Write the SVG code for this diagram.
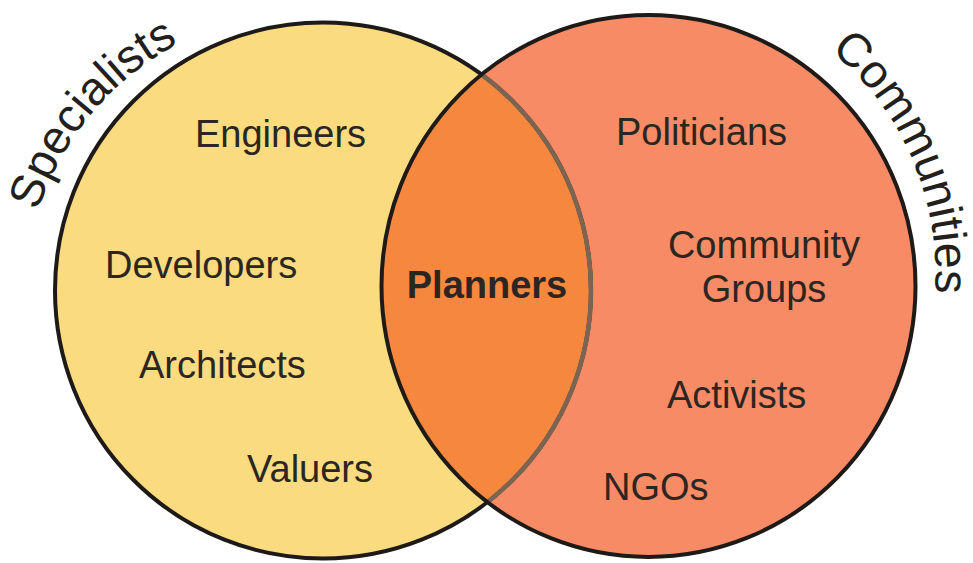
<svg xmlns="http://www.w3.org/2000/svg" width="973" height="563" viewBox="0 0 973 563">
  <style>
    .lbl { font-family: "Liberation Sans", Arial, sans-serif; font-size: 38px; fill: #2b2622; }
    .bold { font-weight: bold; }
    .arc { font-family: "Liberation Sans", Arial, sans-serif; font-size: 47px; fill: #231f1c; }
    .edge { fill: none; stroke: #1e1a17; stroke-width: 4; }
  </style>
  <defs>
    <clipPath id="clipLeft"><circle cx="323" cy="290.5" r="268"/></clipPath>
    <clipPath id="clipRight"><ellipse cx="648.5" cy="286" rx="267" ry="271"/></clipPath>
    <path id="specPath" d="M 28.4 249.6 A 290 290 0 0 1 314 10"/>
    <path id="commPath" d="M 696 -11.7 A 290 290 0 0 1 918.1 373.1"/>
  </defs>
  <rect width="973" height="563" fill="#ffffff"/>

  <g id="specialists">
    <circle cx="323" cy="290.5" r="268" fill="#fbdb7f"/>
  </g>
  <g id="communities">
    <ellipse cx="648.5" cy="286" rx="267" ry="271" fill="#f68b66"/>
  </g>
  <g id="planners-overlap">
    <ellipse cx="648.5" cy="286" rx="267" ry="271" fill="#f5873e" clip-path="url(#clipLeft)"/>
  </g>

  <g id="outlines">
    <circle class="edge" cx="323" cy="290.5" r="268"/>
    <circle cx="323" cy="290.5" r="268" fill="none" stroke="#7c6452" stroke-width="4.5" clip-path="url(#clipRight)"/>
    <ellipse class="edge" cx="648.5" cy="286" rx="267" ry="271"/>
  </g>

  <g id="specialists-labels">
    <text class="arc"><textPath href="#specPath" startOffset="151.8" text-anchor="middle">Specialists</textPath></text>
    <text class="lbl" x="195" y="147">Engineers</text>
    <text class="lbl" x="105" y="278">Developers</text>
    <text class="lbl" x="139" y="378">Architects</text>
    <text class="lbl" x="247" y="482">Valuers</text>
  </g>
  <g id="planners-label">
    <text class="lbl bold" x="487" y="298" text-anchor="middle">Planners</text>
  </g>
  <g id="communities-labels">
    <text class="arc"><textPath href="#commPath" startOffset="286.7" text-anchor="middle">Communities</textPath></text>
    <text class="lbl" x="616" y="145">Politicians</text>
    <text class="lbl" x="764" y="258" text-anchor="middle">Community</text>
    <text class="lbl" x="764" y="302" text-anchor="middle">Groups</text>
    <text class="lbl" x="667" y="408">Activists</text>
    <text class="lbl" x="603" y="500">NGOs</text>
  </g>
</svg>
